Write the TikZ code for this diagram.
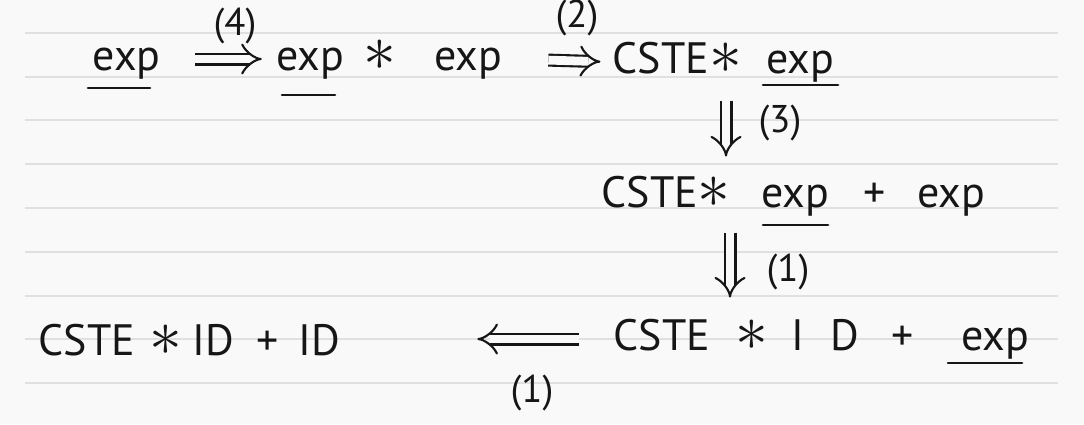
\documentclass[tikz,border=0pt]{standalone}
\usepackage{fontspec}
\setmainfont{PT Sans}
\usetikzlibrary{arrows.meta,calc}
\definecolor{paper}{RGB}{249,249,249}
\definecolor{rule}{RGB}{224,224,224}
\definecolor{ink}{RGB}{22,22,22}
\tikzset{
  tok/.style={font=\fontsize{25}{27}\selectfont, text=ink, anchor=base, inner sep=0pt,
    text height=18pt, text depth=5.5pt, minimum width=#1},
  tok/.default=0pt,
  star/.style={tok, scale=1.5},
  lbl/.style={font=\fontsize{22}{24}\selectfont, text=ink, inner sep=0pt},
  imp/.style={draw=ink, line width=1.2pt, double=paper, double distance=5pt, -{Implies}},
  ul/.style={draw=ink, line width=1.5pt, line cap=round},
}

\begin{document}
\begin{tikzpicture}[x=0.02cm, y=-0.02cm]
    \useasboundingbox (0,0) rectangle (1084,424);
    \fill[paper] (0,0) rectangle (1084,424);
    \foreach \r in {33,77,120,164,208,252,296,339,383}
      \draw[rule, line width=1pt] (25,\r) -- (1058,\r);

    % first line
    \node[tok=1.54cm] (e1) at (126.5,70) {exp};
    \node[tok=1.1cm] (e2) at (310,70) {exp};
    \node[star] (s1) at (380,70) {$\ast$};
    \node[tok=1.74cm] (e3) at (468,70) {exp};
    \node[tok=1.5cm] (c1) at (661,73) {CSTE};
    \node[star] (s2) at (726,73) {$\ast$};
    \node[tok=1.64cm] (e4) at (800,73) {exp};
    \draw[imp, shorten <=0.6cm, shorten >=0.28cm] (e1.east) -- (e2.west);
    \node[lbl] (l4) at (235,26) {(4)};
    \draw[imp, shorten <=0.73cm, shorten >=0.24cm] (e3.east) -- (c1.west);
    \node[lbl] (l2) at (577,18) {(2)};
    \draw[ul] ($(e1.base)+(-38.5,18)$) -- ($(e1.base)+(23.5,18)$);
    \draw[ul] ($(e2.base)+(-28,25)$) -- ($(e2.base)+(25,25)$);
    \draw[ul] ($(e4.base)+(-37,12)$) -- ($(e4.base)+(38,12)$);

    % second line
    \node[tok=1.6cm] (c3) at (650,207) {CSTE};
    \node[star] (s3) at (714,207) {$\ast$};
    \node[tok=1.52cm] (e5) at (795,207) {exp};
    \node[tok] (p3) at (875,207) {+};
    \node[tok=1.84cm] (e6) at (951,207) {exp};
    \draw[ul] ($(e5.base)+(-32,18)$) -- ($(e5.base)+(33,18)$);
    \draw[imp, shorten <=0.25cm, shorten >=0.05cm] (s2.south) -- (s2.south |- s3.north);
    \node[lbl] (l3) at (780,123) {(3)};

    % third line
    \node[tok=1.9cm] (c5) at (662,350) {CSTE};
    \node[star] (s5) at (752,350) {$\ast$};
    \node[tok=1.4cm] (i5) at (825,350) {I\hspace{0.6em}D};
    \node[tok] (p5) at (903,350) {+};
    \node[tok=1.8cm] (e7) at (995,350) {exp};
    \draw[ul] ($(e7.base)+(-47,13)$) -- ($(e7.base)+(27,13)$);
    \coordinate (d4) at ($(s3.south)+(16,0)$);
    \draw[imp, shorten <=0.21cm, shorten >=0.09cm] (d4) -- (d4 |- s5.north);
    \node[lbl] (l1) at (788,272) {(1)};

    \node[tok=1.82cm] (c6) at (87,355) {CSTE};
    \node[star] (s6) at (166,355) {$\ast$};
    \node[tok=0.86cm] (i6) at (213,355) {ID};
    \node[tok] (p6) at (268,355) {+};
    \node[tok=0.96cm] (i7) at (319,355) {ID};
    \draw[imp, shorten <=0.69cm, shorten >=2.68cm] (c5.west) -- (c5.west -| i7.east);
    \node[lbl] (l1b) at (532,393) {(1)};
\end{tikzpicture}
\end{document}
